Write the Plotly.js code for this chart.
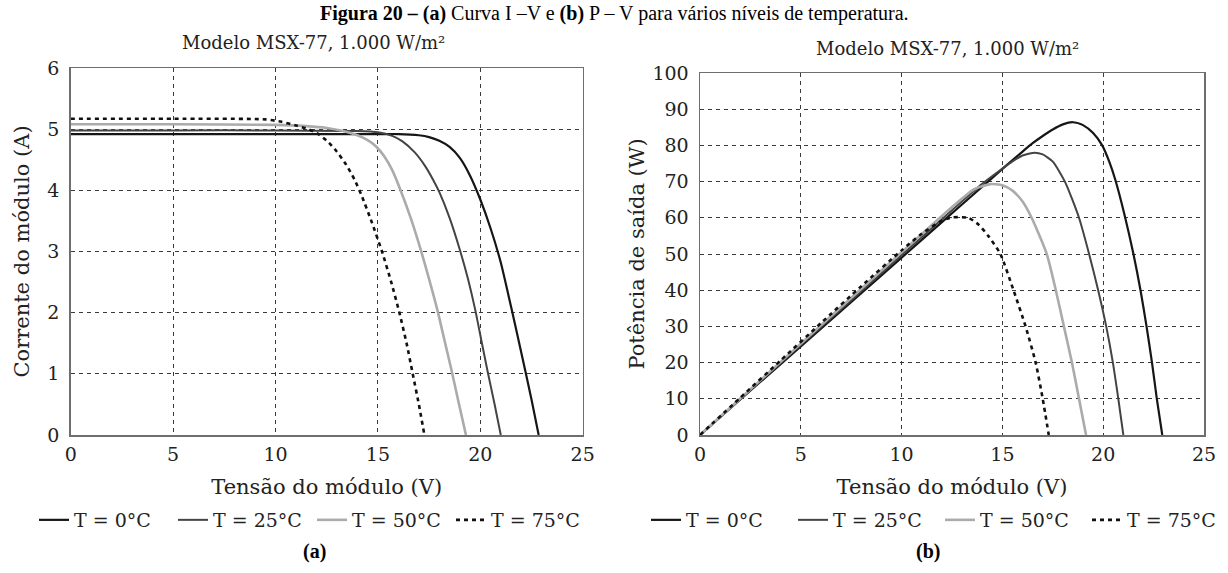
<!DOCTYPE html>
<html>
<head>
<meta charset="utf-8">
<script src="https://cdn.plot.ly/plotly-3.0.1.min.js"></script>
<style>
html,body{margin:0;padding:0;background:#ffffff;}
#chart{width:1228px;height:573px;}
</style>
</head>
<body>
<div id="chart"></div>
<script>
// ---------- data ----------
const seriesNames = ['T = 0°C', 'T = 25°C', 'T = 50°C', 'T = 75°C'];

// (a) I–V curves : module voltage (V) vs module current (A)
const ivV_0  = [0, 5, 10, 15, 16, 17, 17.5, 18, 18.5, 19, 19.5, 20, 20.5, 21, 21.5, 22, 22.5, 22.85];
const ivI_0  = [4.92, 4.92, 4.92, 4.92, 4.92, 4.90, 4.87, 4.81, 4.71, 4.53, 4.24, 3.85, 3.38, 2.82, 2.1, 1.35, 0.58, 0];
const ivV_25 = [0, 5, 10, 14, 15, 15.7, 16.2, 16.8, 17.3, 17.7, 18.0, 18.5, 19, 19.4, 19.75, 20.05, 20.35, 20.7, 21.0];
const ivI_25 = [4.98, 4.98, 4.98, 4.97, 4.95, 4.89, 4.80, 4.62, 4.40, 4.17, 3.97, 3.55, 3.03, 2.55, 2.05, 1.55, 1.05, 0.5, 0];
const ivV_50 = [0, 5, 10, 11.5, 12.5, 13.3, 14, 14.5, 14.9, 15.3, 15.7, 16.05, 16.6, 17.1, 17.5, 17.9, 18.25, 18.6, 18.95, 19.3];
const ivI_50 = [5.08, 5.08, 5.07, 5.05, 5.02, 4.97, 4.90, 4.82, 4.72, 4.56, 4.33, 4.05, 3.55, 3.02, 2.55, 2.05, 1.55, 1.05, 0.52, 0];
const ivV_75 = [0, 5, 9.5, 10.3, 11, 11.6, 12.1, 12.6, 13, 13.45, 13.85, 14.2, 14.7, 15.2, 15.65, 16.05, 16.4, 16.7, 17.0, 17.27];
const ivI_75 = [5.17, 5.17, 5.16, 5.12, 5.06, 5.0, 4.92, 4.78, 4.63, 4.42, 4.18, 3.92, 3.48, 3.0, 2.5, 2.0, 1.5, 1.0, 0.5, 0];

// (b) P–V curves : module voltage (V) vs output power (W)
const pvV_0  = [0, 2, 4, 6, 8, 10, 12, 14, 15, 16, 16.5, 17, 17.5, 18, 18.5, 19, 19.5, 19.95, 20.3, 20.6, 21.05, 21.5, 21.85, 22.15, 22.42, 22.66, 22.93];
const pvP_0  = [0, 9.8, 19.6, 29.4, 39.2, 49, 58.8, 68.6, 73.5, 78.3, 80.6, 82.6, 84.4, 85.8, 86.4, 85.6, 83.4, 80, 75.5, 70.5, 61, 50, 40, 30, 20, 10, 0];
const pvV_25 = [0, 2, 4, 6, 8, 10, 12, 14, 15, 15.5, 16, 16.6, 17, 17.5, 18.1, 18.8, 19.3, 19.75, 20.15, 20.48, 20.75, 21.0];
const pvP_25 = [0, 9.9, 19.9, 29.8, 39.7, 49.7, 59.6, 69.4, 73.6, 75.6, 77.2, 78, 77.5, 75.5, 70, 60, 50, 40, 30, 20, 10, 0];
const pvV_50 = [0, 2, 4, 6, 8, 10, 12, 13, 13.6, 14.4, 15, 15.5, 16, 16.45, 17.2, 17.65, 18.05, 18.45, 18.8, 19.15];
const pvP_50 = [0, 10.1, 20.2, 30.3, 40.4, 50.5, 60.5, 65.3, 67.9, 69.3, 69, 67.5, 64.5, 60, 50, 40, 30, 20, 10, 0];
const pvV_75 = [0, 2, 4, 6, 8, 10, 11, 12, 12.5, 13.3, 13.8, 14.3, 14.9, 15.55, 16.15, 16.65, 17.0, 17.3];
const pvP_75 = [0, 10.3, 20.6, 30.9, 41.1, 51, 55.6, 59.2, 60.1, 60, 58.2, 55, 50, 40, 30, 20, 10, 0];

const xTickVals = [0, 5, 10, 15, 20, 25];
const iTickVals = [0, 1, 2, 3, 4, 5, 6];
const pTickVals = [0, 10, 20, 30, 40, 50, 60, 70, 80, 90, 100];

// ---------- styling ----------
const FONT = 'DejaVu Serif';
const TXT = '#222222';
const lineStyles = [
  {color: '#161616', width: 2.2, dash: 'solid'},
  {color: '#444444', width: 2.0, dash: 'solid'},
  {color: '#ababab', width: 2.6, dash: 'solid'},
  {color: '#111111', width: 2.6, dash: '4px,4px'}
];

const ivX = [ivV_0, ivV_25, ivV_50, ivV_75];
const ivY = [ivI_0, ivI_25, ivI_50, ivI_75];
const pvX = [pvV_0, pvV_25, pvV_50, pvV_75];
const pvY = [pvP_0, pvP_25, pvP_50, pvP_75];

const traces = [];
for (let k = 0; k < 4; k++) {
  traces.push({
    type: 'scatter', mode: 'lines', x: ivX[k], y: ivY[k],
    name: seriesNames[k], xaxis: 'x', yaxis: 'y', legend: 'legend',
    line: Object.assign({shape: 'spline', smoothing: 0.6}, lineStyles[k]),
    hoverinfo: 'skip'
  });
}
for (let k = 0; k < 4; k++) {
  traces.push({
    type: 'scatter', mode: 'lines', x: pvX[k], y: pvY[k],
    name: seriesNames[k], xaxis: 'x2', yaxis: 'y2', legend: 'legend2',
    line: Object.assign({shape: 'spline', smoothing: 0.6}, lineStyles[k]),
    hoverinfo: 'skip'
  });
}

const W = 1228, H = 573;
const px = v => v / W;
const py = v => 1 - v / H;

function xAxis(d0, d1, anchor) {
  return {
    domain: [px(d0), px(d1)], anchor: anchor, range: [0, 25], automargin: false,
    tickvals: xTickVals, ticks: '', ticklabelstandoff: 2,
    showgrid: true, gridcolor: '#3a3a3a', gridwidth: 1, griddash: '4px,4px',
    zeroline: false, showline: true, mirror: true, linecolor: '#6e6e6e', linewidth: 1.5,
    tickfont: {family: FONT, size: 19, color: TXT},
    title: {text: 'Tensão do módulo (V)', font: {family: FONT, size: 21, color: TXT}, standoff: 15}
  };
}
function yAxis(d0, d1, anchor, range, vals, titleText, standoff) {
  return {
    domain: [py(d1), py(d0)], anchor: anchor, range: range, automargin: false,
    tickvals: vals, ticks: '', ticklabelstandoff: 6,
    showgrid: true, gridcolor: '#3a3a3a', gridwidth: 1, griddash: '4px,4px',
    zeroline: false, showline: true, mirror: true, linecolor: '#6e6e6e', linewidth: 1.5,
    tickfont: {family: FONT, size: 19, color: TXT},
    title: {text: titleText, font: {family: FONT, size: 21, color: TXT}, standoff: standoff}
  };
}

const layout = {
  width: W, height: H,
  margin: {l: 0, r: 0, t: 0, b: 0, autoexpand: false},
  paper_bgcolor: '#ffffff', plot_bgcolor: '#ffffff',
  font: {family: FONT, color: TXT},
  xaxis: xAxis(70.7, 582.7, 'y'),
  yaxis: yAxis(68, 435, 'x', [0, 6], iTickVals, 'Corrente do módulo (A)', 12),
  xaxis2: xAxis(700, 1204, 'y2'),
  yaxis2: yAxis(73, 435, 'x2', [0, 100], pTickVals, 'Potência de saída (W)', 2),
  legend: {
    orientation: 'h', x: px(312), xanchor: 'center', y: py(520), yanchor: 'middle',
    font: {family: FONT, size: 19, color: TXT}, bgcolor: 'rgba(0,0,0,0)',
    itemwidth: 30, entrywidth: 94, tracegroupgap: 0
  },
  legend2: {
    orientation: 'h', x: px(940), xanchor: 'center', y: py(520), yanchor: 'middle',
    font: {family: FONT, size: 19, color: TXT}, bgcolor: 'rgba(0,0,0,0)',
    itemwidth: 30, entrywidth: 102, tracegroupgap: 0
  },
  annotations: [
    {text: '<b>Figura 20 –</b> <b>(a)</b> Curva I –V e <b>(b)</b> P – V para vários níveis de temperatura.',
     xref: 'paper', yref: 'paper', x: 0.5, y: py(13), xanchor: 'center', yanchor: 'middle',
     showarrow: false, font: {family: 'Liberation Serif', size: 20, color: '#000000'}},
    {text: 'Modelo MSX-77, 1.000 W/m²', xref: 'paper', yref: 'paper',
     x: px(313), y: py(43), xanchor: 'center', yanchor: 'middle', showarrow: false,
     font: {family: FONT, size: 18, color: TXT}},
    {text: 'Modelo MSX-77, 1.000 W/m²', xref: 'paper', yref: 'paper',
     x: px(947), y: py(49), xanchor: 'center', yanchor: 'middle', showarrow: false,
     font: {family: FONT, size: 18, color: TXT}},
    {text: '<b>(a)</b>', xref: 'paper', yref: 'paper', x: px(314), y: py(551),
     xanchor: 'center', yanchor: 'middle', showarrow: false,
     font: {family: 'Liberation Serif', size: 20, color: '#000000'}},
    {text: '<b>(b)</b>', xref: 'paper', yref: 'paper', x: px(928), y: py(551),
     xanchor: 'center', yanchor: 'middle', showarrow: false,
     font: {family: 'Liberation Serif', size: 20, color: '#000000'}}
  ]
};

Plotly.newPlot('chart', traces, layout, {displayModeBar: false, staticPlot: true});
</script>
</body>
</html>
